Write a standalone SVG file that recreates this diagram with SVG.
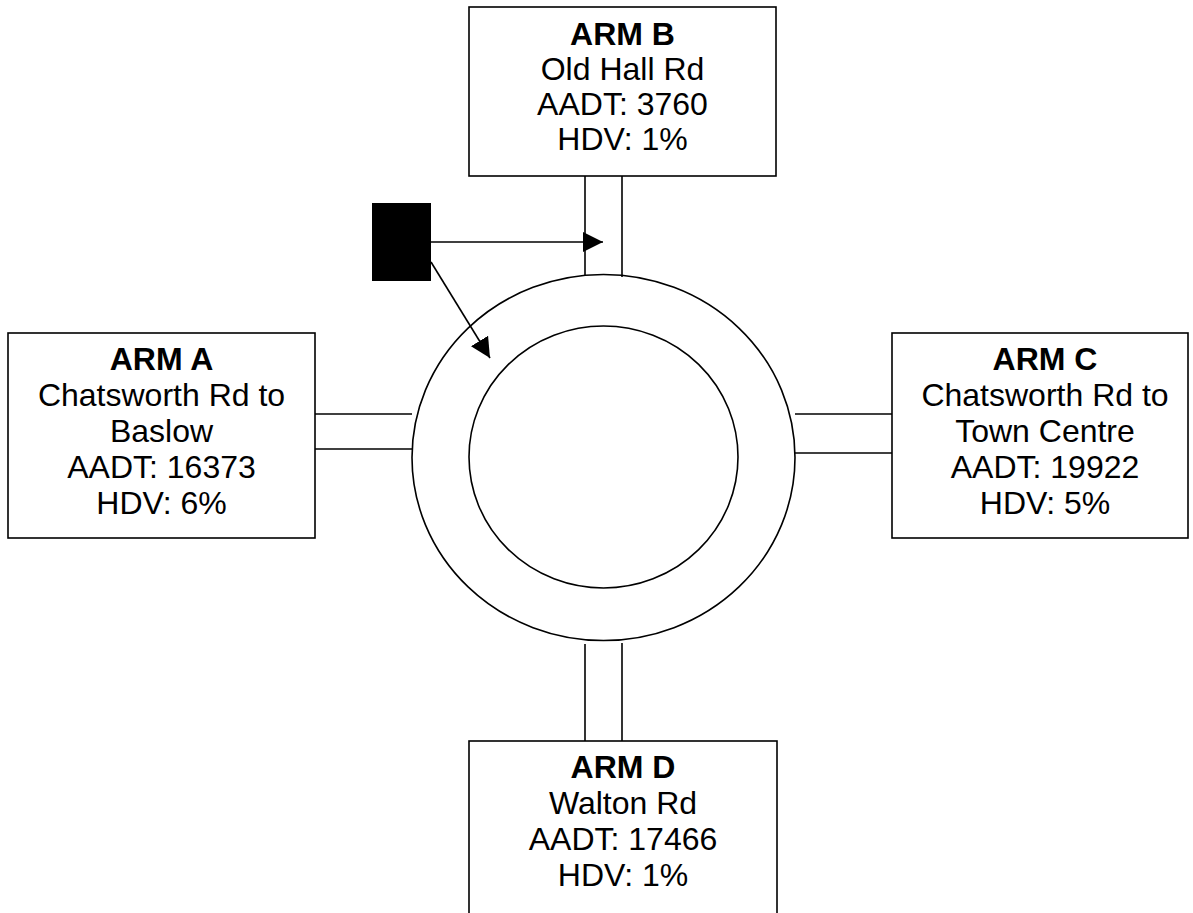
<svg xmlns="http://www.w3.org/2000/svg" width="1193" height="913" viewBox="0 0 1193 913">
<defs>
<style>
.box{fill:#fff;stroke:#000;stroke-width:1.6}
.ln{stroke:#000;stroke-width:1.6;fill:none}
.t{font-family:"Liberation Sans",Arial,sans-serif;font-size:32px;fill:#000;text-anchor:middle}
.b{font-weight:bold}
</style>
<marker id="ah" viewBox="0 0 20 20" refX="20" refY="10" markerWidth="20" markerHeight="20" markerUnits="userSpaceOnUse" orient="auto">
<path d="M0,0 L20,10 L0,20 Z" fill="#000"/>
</marker>
</defs>
<rect width="1193" height="913" fill="#fff"/>
<g id="roundabout">
<ellipse cx="603.5" cy="457.5" rx="191.5" ry="183" class="ln"/>
<ellipse cx="603.5" cy="457" rx="134.5" ry="131" class="ln"/>
</g>
<g id="roads">
<line x1="585" y1="176" x2="585" y2="276" class="ln"/>
<line x1="622" y1="176" x2="622" y2="277" class="ln"/>
<line x1="585" y1="644" x2="585" y2="741" class="ln"/>
<line x1="622" y1="643" x2="622" y2="741" class="ln"/>
<line x1="315" y1="414" x2="412" y2="414" class="ln"/>
<line x1="315" y1="449" x2="412" y2="449" class="ln"/>
<line x1="795" y1="414" x2="892" y2="414" class="ln"/>
<line x1="795" y1="453" x2="892" y2="453" class="ln"/>
</g>
<g id="armB">
<rect x="469" y="7" width="307" height="169" class="box"/>
<text class="t b" x="622.5" y="45">ARM B</text>
<text class="t" x="622.5" y="80">Old Hall Rd</text>
<text class="t" x="622.5" y="115">AADT: 3760</text>
<text class="t" x="622.5" y="150">HDV: 1%</text>
</g>
<g id="armA">
<rect x="8" y="333" width="307" height="205" class="box"/>
<text class="t b" x="161.5" y="370">ARM A</text>
<text class="t" x="161.5" y="406">Chatsworth Rd to</text>
<text class="t" x="161.5" y="442">Baslow</text>
<text class="t" x="161.5" y="478">AADT: 16373</text>
<text class="t" x="161.5" y="514">HDV: 6%</text>
</g>
<g id="armC">
<rect x="892" y="333" width="296" height="205" class="box"/>
<text class="t b" x="1045" y="370">ARM C</text>
<text class="t" x="1045" y="406">Chatsworth Rd to</text>
<text class="t" x="1045" y="442">Town Centre</text>
<text class="t" x="1045" y="478">AADT: 19922</text>
<text class="t" x="1045" y="514">HDV: 5%</text>
</g>
<g id="armD">
<rect x="469" y="741" width="308" height="190" class="box"/>
<text class="t b" x="623" y="778">ARM D</text>
<text class="t" x="623" y="814">Walton Rd</text>
<text class="t" x="623" y="850">AADT: 17466</text>
<text class="t" x="623" y="886">HDV: 1%</text>
</g>
<g id="marker">
<rect x="372" y="203" width="59" height="78" fill="#000"/>
</g>
<g id="connectors">
<line x1="431" y1="242" x2="603" y2="242" class="ln" marker-end="url(#ah)"/>
<line x1="431" y1="262" x2="490" y2="358" class="ln" marker-end="url(#ah)"/>
</g>
</svg>
